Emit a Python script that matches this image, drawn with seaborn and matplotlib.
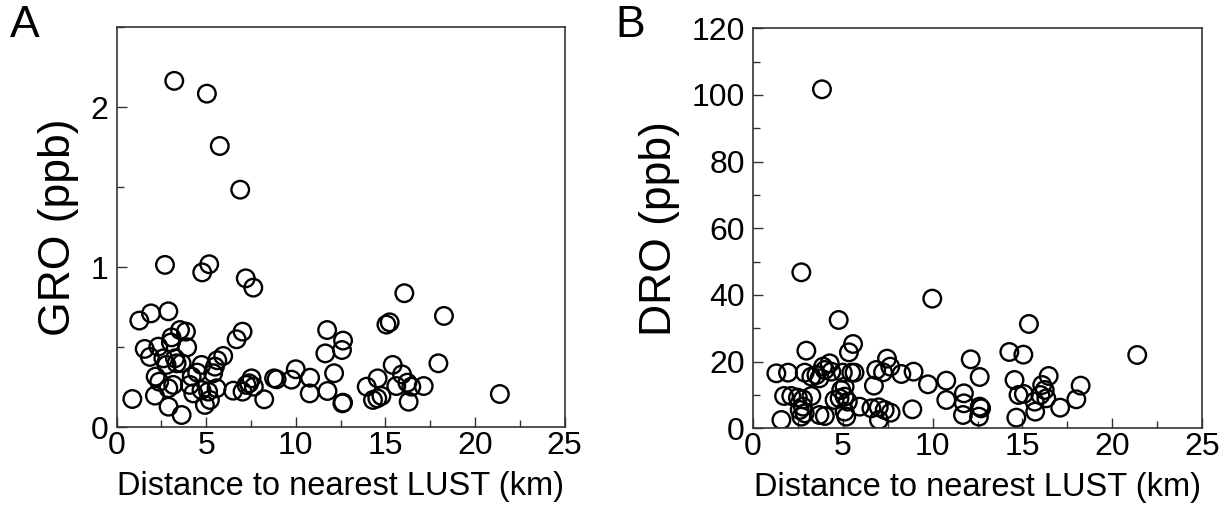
import numpy as np
import pandas as pd
import matplotlib
matplotlib.use("Agg")
import matplotlib.pyplot as plt
import seaborn as sns
from matplotlib.ticker import MultipleLocator

# ---- Panel A data: distance (km) vs GRO (ppb)
gro_dist = [3.22, 5.04, 5.76, 6.90, 2.70, 5.17, 4.78, 7.21, 7.63,
            16.06, 18.27, 15.06, 15.24, 1.27, 1.92, 2.89,
            11.75, 12.64, 12.58, 11.65, 7.03, 6.70,
            3.54, 3.87, 3.07, 3.03, 3.94, 2.33, 1.57, 1.86,
            2.61, 2.79, 3.26, 3.35, 3.63, 5.95, 5.62,
            17.96, 15.41, 10.00, 9.76, 10.80, 12.14, 8.79, 8.93,
            15.93, 16.23, 16.45, 17.14, 15.61, 14.57, 13.96, 21.39,
            11.77, 10.78, 12.64, 12.60, 14.31, 14.55, 14.78, 16.30,
            0.88, 8.24, 3.63, 2.90, 2.14, 2.18, 2.38, 2.89, 3.16,
            4.19, 4.50, 4.74, 5.39, 5.49, 4.09, 4.28, 4.74, 5.11, 4.93, 5.21, 5.58,
            6.51, 7.03, 7.25, 7.53, 7.66, 7.40]
gro_ppb = [2.165, 2.085, 1.758, 1.485, 1.015, 1.019, 0.968, 0.931, 0.873,
           0.838, 0.696, 0.642, 0.656, 0.667, 0.712, 0.725,
           0.608, 0.542, 0.483, 0.462, 0.598, 0.550,
           0.608, 0.598, 0.562, 0.530, 0.500, 0.504, 0.490, 0.440,
           0.431, 0.390, 0.431, 0.400, 0.400, 0.446, 0.419,
           0.400, 0.390, 0.363, 0.298, 0.310, 0.338, 0.306, 0.300,
           0.331, 0.279, 0.254, 0.258, 0.258, 0.306, 0.254, 0.208,
           0.227, 0.212, 0.154, 0.150, 0.171, 0.181, 0.196, 0.160,
           0.177, 0.175, 0.077, 0.129, 0.198, 0.317, 0.285, 0.244, 0.265,
           0.317, 0.342, 0.390, 0.338, 0.379, 0.265, 0.212, 0.233, 0.223, 0.140, 0.171, 0.244,
           0.229, 0.223, 0.265, 0.306, 0.254, 0.275]

# ---- Panel B data: distance (km) vs DRO (ppb)
dro_dist = [3.84, 2.69, 9.98, 4.77, 15.36, 21.39, 14.27, 15.05,
            5.57, 5.34, 2.97, 12.12, 7.46, 7.64, 8.94, 8.26, 6.86, 7.24,
            12.62, 16.46, 14.56, 16.10, 18.24, 10.76, 9.74, 6.73,
            1.30, 1.95, 2.88, 3.25, 3.53, 3.90, 4.27, 4.00, 4.36, 3.70,
            5.00, 5.47, 5.65, 5.10,
            1.73, 2.13, 2.50, 2.78, 3.25, 4.54, 4.82, 5.10, 5.28, 4.91,
            5.94, 6.59, 7.00, 7.33, 7.66, 7.01, 8.87,
            10.76, 11.74, 11.74, 11.69, 12.62, 12.70, 12.58,
            14.66, 14.78, 15.08, 15.68, 15.71, 16.00, 16.24, 16.33,
            17.10, 18.00,
            1.58, 2.69, 2.88, 3.70, 4.00, 5.19, 5.10, 2.78, 2.60]
dro_ppb = [101.7, 46.8, 38.9, 32.5, 31.3, 22.0, 22.9, 22.1,
           25.3, 22.8, 23.3, 20.7, 20.9, 18.5, 17.0, 16.3, 17.5, 16.8,
           15.4, 15.7, 14.5, 13.0, 12.8, 14.3, 13.2, 12.8,
           16.5, 16.7, 16.7, 15.5, 16.0, 18.5, 19.5, 17.5, 17.0, 15.0,
           16.7, 16.7, 16.7, 12.5,
           9.7, 9.7, 9.2, 8.7, 9.7, 8.5, 9.0, 9.5, 8.0, 11.5,
           6.5, 6.0, 6.3, 5.5, 4.7, 2.5, 5.7,
           8.5, 10.5, 7.5, 4.0, 6.5, 6.0, 3.5,
           3.2, 10.0, 10.3, 8.0, 5.0, 10.0, 11.5, 9.0,
           6.2, 8.7,
           2.5, 3.5, 4.5, 4.0, 3.7, 3.5, 5.0, 6.5, 5.5]

x_label = "Distance to nearest LUST (km)"
panel_labels = ["A", "B"]
y_labels = ["GRO (ppb)", "DRO (ppb)"]

sns.set_style("ticks")
plt.rcParams["font.family"] = ["Liberation Sans", "DejaVu Sans"]
plt.rcParams["text.color"] = "black"
plt.rcParams["axes.labelcolor"] = "black"
plt.rcParams["xtick.labelcolor"] = "black"
plt.rcParams["ytick.labelcolor"] = "black"

fig = plt.figure(figsize=(12.31, 5.24), dpi=100)
axA = fig.add_axes([0.0947, 0.1845, 0.3639, 0.7635])
axB = fig.add_axes([0.6117, 0.1826, 0.3648, 0.7634])

dfA = pd.DataFrame({"x": gro_dist, "y": gro_ppb})
dfB = pd.DataFrame({"x": dro_dist, "y": dro_ppb})

for ax, df in [(axA, dfA), (axB, dfB)]:
    sns.scatterplot(data=df, x="x", y="y", ax=ax, s=160, marker="o",
                    facecolors="none", edgecolor="black", linewidth=1.7)

axA.set_xlim(0, 25)
axA.set_ylim(0, 2.5)
axA.yaxis.set_major_locator(MultipleLocator(1))
axA.yaxis.set_minor_locator(MultipleLocator(0.5))

axB.set_xlim(0, 25)
axB.set_ylim(0, 120)
axB.yaxis.set_major_locator(MultipleLocator(20))
axB.yaxis.set_minor_locator(MultipleLocator(10))

for ax, yl, pl in [(axA, y_labels[0], panel_labels[0]), (axB, y_labels[1], panel_labels[1])]:
    ax.xaxis.set_major_locator(MultipleLocator(5))
    ax.xaxis.set_minor_locator(MultipleLocator(2.5))
    ax.tick_params(which="both", direction="in", top=False, right=False,
                   labelsize=23, color="#333333", width=1)
    ax.tick_params(which="major", length=7)
    ax.tick_params(axis="y", which="major", pad=6)
    ax.tick_params(axis="x", which="major", pad=3)
    ax.tick_params(which="minor", length=5)
    for sp in ax.spines.values():
        sp.set_visible(True)
        sp.set_color("#333333")
        sp.set_linewidth(1.2)
    ax.set_xlabel(x_label, fontsize=23.5, labelpad=7)
    ax.set_ylabel(yl, fontsize=32, labelpad=8)

fig.text(0.008, 0.99, panel_labels[0], fontsize=32, va="top", ha="left")
fig.text(0.500, 0.99, panel_labels[1], fontsize=32, va="top", ha="left")

fig.savefig("out.png", dpi=100)
